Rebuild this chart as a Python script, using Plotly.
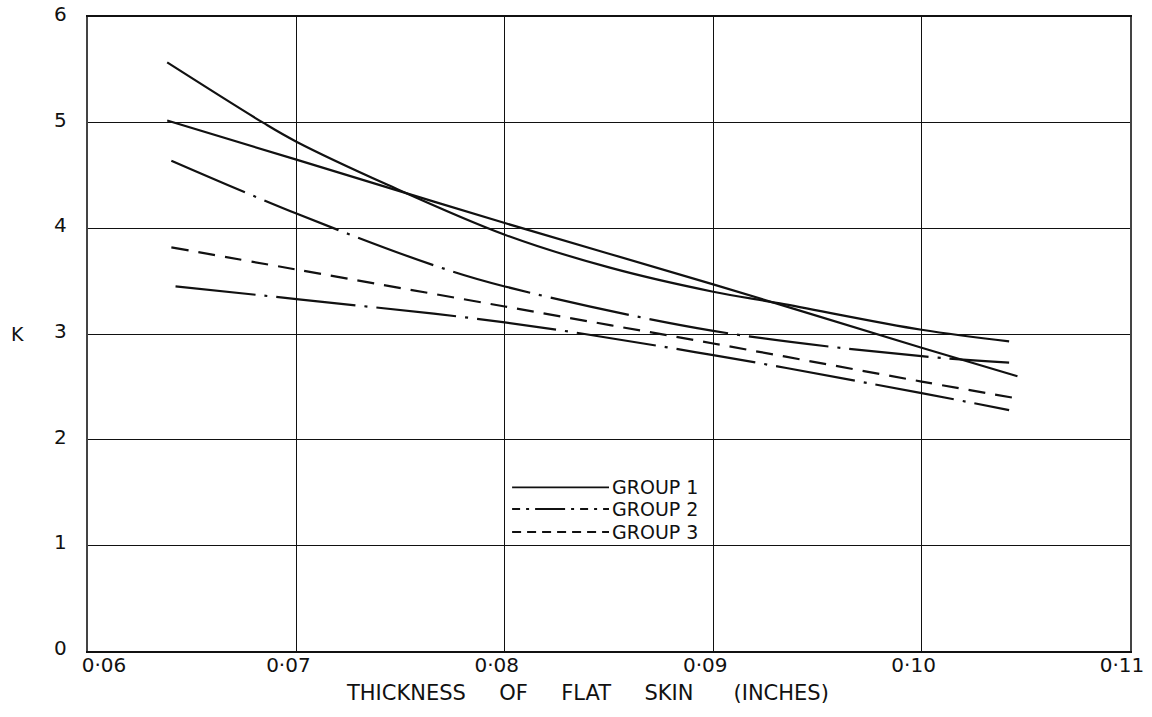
import plotly.graph_objects as go

# ---- data ----
g1a_x = [0.0638, 0.0684, 0.0700, 0.0744, 0.0800, 0.0850, 0.0900, 0.0932, 0.1000, 0.1042]
g1a_y = [5.57, 5.00, 4.82, 4.41, 3.94, 3.63, 3.40, 3.29, 3.04, 2.93]

g1b_x = [0.0638, 0.0700, 0.0800, 0.0900, 0.1000, 0.1046]
g1b_y = [5.02, 4.65, 4.05, 3.47, 2.87, 2.60]

g2a_x = [0.0640, 0.0700, 0.0766, 0.0800, 0.0900, 0.1000, 0.1042]
g2a_y = [4.64, 4.14, 3.65, 3.45, 3.03, 2.79, 2.73]

g2b_x = [0.0642, 0.0700, 0.0800, 0.0900, 0.1000, 0.1042]
g2b_y = [3.45, 3.33, 3.11, 2.80, 2.44, 2.28]

g3_x = [0.0640, 0.0700, 0.0800, 0.0900, 0.1000, 0.1046]
g3_y = [3.82, 3.61, 3.26, 2.91, 2.55, 2.39]

x_range = [0.06, 0.11]
x_ticks = [0.06, 0.07, 0.08, 0.09, 0.10, 0.11]
x_ticktext = ["0·06", "0·07", "0·08", "0·09", "0·10", "0·11"]
y_ticks = [0, 1, 2, 3, 4, 5, 6]
legend_labels = ["GROUP 1", "GROUP 2", "GROUP 3"]

# ---- styles ----
INK = "#111111"
FONT = "DejaVu Sans"
DASHDOT = "80px,9px,3px,9px"
DASHED = "17px,10px"
LW = 2.2

fig = go.Figure()

def add(x, y, dash, xaxis="x"):
    fig.add_trace(go.Scatter(x=x, y=y, mode="lines", xaxis=xaxis,
                             line=dict(color=INK, width=LW, dash=dash, shape="spline", smoothing=1.0),
                             showlegend=False, hoverinfo="skip"))

add(g1a_x, g1a_y, "solid")
add(g1b_x, g1b_y, "solid")
add(g2a_x, g2a_y, DASHDOT)
add(g2b_x, g2b_y, DASHDOT)
add(g3_x, g3_y, DASHED, xaxis="x2")   # same scale; x2 only carries the shifted first tick label

# ---- legend drawn inside the plot (paper coords) ----
leg_dash = ["solid", "8px,6px,3px,6px,30px,6px,3px,6px", "9px,6px"]
leg_y = [0.258, 0.224, 0.1877]
shapes = []
annotations = []
for lab, dsh, yy in zip(legend_labels, leg_dash, leg_y):
    shapes.append(dict(type="line", xref="paper", yref="paper",
                       x0=0.407, x1=0.500, y0=yy, y1=yy,
                       line=dict(color=INK, width=1.8, dash=dsh)))
    annotations.append(dict(text=lab, xref="paper", yref="paper", x=0.501, y=yy,
                            xanchor="left", yanchor="middle", showarrow=False,
                            font=dict(family=FONT, size=19, color=INK)))

annotations.append(dict(text="K", xref="paper", yref="paper", x=-0.068, y=0.5,
                        xanchor="center", yanchor="middle", showarrow=False,
                        font=dict(family=FONT, size=19, color=INK)))
annotations.append(dict(text="THICKNESS&nbsp;&nbsp;&nbsp;&nbsp; OF&nbsp;&nbsp;&nbsp;&nbsp; FLAT&nbsp;&nbsp;&nbsp;&nbsp; SKIN&nbsp;&nbsp;&nbsp;&nbsp;&nbsp; (INCHES)",
                        xref="paper", yref="paper", x=0.479, y=-0.066,
                        xanchor="center", yanchor="middle", showarrow=False,
                        font=dict(family=FONT, size=21, color=INK)))

fig.update_layout(
    width=1152, height=717,
    margin=dict(l=88, r=22, t=17, b=66),
    paper_bgcolor="white", plot_bgcolor="white",
    font=dict(family=FONT, size=18, color=INK),
    shapes=shapes, annotations=annotations,
    showlegend=False,
    xaxis=dict(range=x_range, tickvals=x_ticks[1:], ticktext=x_ticktext[1:],
               showgrid=True, gridcolor=INK, gridwidth=1.4,
               showline=True, linecolor=INK, linewidth=2, mirror=True,
               ticks="", ticklabelstandoff=-5, ticklabelshift=-8, ticklabeloverflow="allow",
               zeroline=False, automargin=False,
               tickfont=dict(family=FONT, size=20, color=INK)),
    xaxis2=dict(range=x_range, overlaying="x", side="bottom",
                tickvals=x_ticks[:1], ticktext=x_ticktext[:1],
                showgrid=False, showline=False, zeroline=False,
                ticks="", ticklabelstandoff=0, ticklabelshift=16, ticklabeloverflow="allow",
                automargin=False,
                tickfont=dict(family=FONT, size=20, color=INK)),
    yaxis=dict(range=[0, 6], tickvals=y_ticks,
               showgrid=True, gridcolor=INK, gridwidth=1.4,
               showline=True, linecolor="#444444", linewidth=2.4, mirror=True,
               ticks="", ticklabelstandoff=15, ticklabelshift=-3, ticklabeloverflow="allow",
               zeroline=False, automargin=False,
               tickfont=dict(family=FONT, size=20, color=INK)),
)

fig.write_html("out.html")
